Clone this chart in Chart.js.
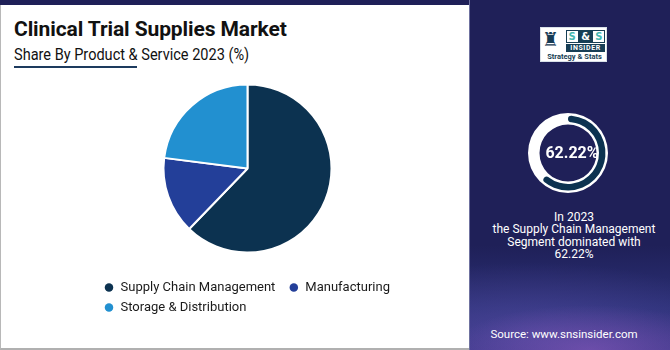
<!DOCTYPE html>
<html>
<head>
<meta charset="utf-8">
<script src="https://cdn.jsdelivr.net/npm/chart.js@4.4.1/dist/chart.umd.min.js"></script>
<style>
  html, body { margin:0; padding:0; }
  body { width:670px; height:350px; position:relative; overflow:hidden; background:#fff; font-family: Roboto, "Noto Sans", sans-serif; }
  #left { position:absolute; left:0; top:0; width:469px; height:350px; background:#fff; box-sizing:border-box; border-left:1px solid #b8b8b8; border-bottom:2px solid #b0b0b0; }
  #topband { position:absolute; left:0; top:0; width:470px; height:5px; background:#1f2058; }
  #title { position:absolute; left:14px; top:19px; font-weight:700; font-size:21px; line-height:21px; color:#111; white-space:nowrap; letter-spacing:-0.1px; }
  #subtitle { position:absolute; left:14px; top:46px; font-size:17px; line-height:17px; color:#111; white-space:nowrap; transform-origin:0 0; transform:scaleX(0.855); }
  #uline { position:absolute; left:14px; top:66px; width:123px; height:2px; background:#1d3b5e; }
  #pieWrap { position:absolute; left:97px; top:62.5px; width:301px; height:261px; }
  #right { position:absolute; left:469px; top:0; width:201px; height:350px; background:#1f2058; overflow:hidden;
    background-image:
      radial-gradient(ellipse 140px 45px at 60% 100%, rgba(140,90,190,0.55), rgba(140,90,190,0) 100%),
      radial-gradient(ellipse 220px 70px at 30% 95%, rgba(90,80,170,0.55), rgba(90,80,170,0) 100%),
      linear-gradient(to bottom, #1f2058 0%, #1f2058 70%, #2b3076 88%, #3a3585 100%);
    border-left:1px solid #6f72a0; box-sizing:border-box; }
  #ringWrap { position:absolute; left:518px; top:103px; width:100px; height:100px; }
  #ringLabel { position:absolute; left:522px; top:145px; width:100px; text-align:center; color:#fff; font-weight:700; font-size:16px; line-height:16px; }
  #desc { position:absolute; left:474px; top:211px; width:200px; text-align:center; color:#fff; font-size:12px; line-height:12.4px; }
  #source { position:absolute; left:469px; top:327px; width:190px; text-align:center; color:#fff; font-size:11.5px; line-height:14px; }
  #logo { position:absolute; left:540px; top:27px; width:67px; height:35px; background:#fff; box-sizing:border-box; border:1px solid #d8e0e8; }
  #rook { position:absolute; left:1px; top:1px; font-size:19px; line-height:20px; color:#163b55; font-family:"DejaVu Sans", sans-serif; }
  #ss { position:absolute; left:25px; top:2px; width:39px; height:13px; background:#173e55; color:#fff; font-size:10px; font-weight:700; line-height:13px; text-align:center; font-family:"DejaVu Sans", sans-serif; }
  #ss span.b { display:inline-block; background:#fff; color:#45b8b2; width:11px; line-height:11px; margin-top:1px; }
  #ins { position:absolute; left:25px; top:16px; width:39px; height:8px; background:#173e55; color:#fff; font-size:7px; font-weight:700; line-height:8px; text-align:center; letter-spacing:0.6px; }
  #strat { position:absolute; left:2px; top:24px; width:63px; text-align:center; color:#173e55; font-size:7.5px; font-weight:700; line-height:9px; white-space:nowrap; }
</style>
</head>
<body>
<div id="left"></div>
<div id="topband"></div>
<div id="title">Clinical Trial Supplies Market</div>
<div id="subtitle">Share By Product &amp; Service 2023 (%)</div>
<div id="uline"></div>
<div id="pieWrap"><canvas id="pie"></canvas></div>

<div id="right"></div>
<div id="logo">
  <div id="rook">&#9820;</div>
  <div id="ss"><span class="b">S</span> &amp; <span class="b">S</span></div>
  <div id="ins">INSIDER</div>
  <div id="strat">Strategy &amp; Stats</div>
</div>
<div id="ringWrap"><canvas id="ring"></canvas></div>
<div id="ringLabel"></div>
<div id="desc"></div>
<div id="source">Source: www.snsinsider.com</div>

<script>
// ---- data ----
const categories = ["Supply Chain Management", "Manufacturing", "Storage & Distribution"];
const shares = [62.22, 14.8, 22.98];
const colors = ["#0c3250", "#233f99", "#2290d0"];
const highlightIndex = 0;
const year = "2023";

const highlight = shares[highlightIndex];
document.getElementById('ringLabel').textContent = highlight.toFixed(2) + '%';
document.getElementById('desc').innerHTML =
  'In ' + year + '<br>the ' + categories[highlightIndex] + '<br>Segment dominated with<br>' + highlight.toFixed(2) + '%';

Chart.defaults.font.family = 'Roboto, "Noto Sans", sans-serif';

new Chart(document.getElementById('pie'), {
  type: 'pie',
  data: {
    labels: categories,
    datasets: [{
      data: shares,
      backgroundColor: colors,
      borderColor: '#ffffff',
      borderWidth: 2
    }]
  },
  options: {
    responsive: true,
    maintainAspectRatio: false,
    animation: false,
    radius: 84,
    layout: { padding: 0 },
    plugins: {
      tooltip: { enabled: false },
      legend: {
        position: 'bottom',
        align: 'start',
        labels: {
          usePointStyle: true,
          pointStyle: 'circle',
          boxWidth: 10,
          boxHeight: 6,
          padding: 7,
          color: '#1a1a1a',
          font: { size: 13 },
          generateLabels: (chart) => {
            const items = Chart.overrides.pie.plugins.legend.labels.generateLabels(chart);
            items.forEach((it, i) => {
              it.lineWidth = 0;
              it.strokeStyle = 'transparent';
              if (i === 0) it.text = it.text + '\u00a0\u00a0';
            });
            return items;
          }
        }
      }
    }
  }
});

const RING_OUTER = 40, RING_INNER = 28.5, ARC_OUTER = 37.5, ARC_INNER = 31;

const ringBg = {
  id: 'ringBg',
  beforeDatasetsDraw(chart) {
    const arc = chart.getDatasetMeta(0).data[0];
    if (!arc) return;
    const ctx = chart.ctx;
    ctx.save();
    ctx.beginPath();
    ctx.arc(arc.x, arc.y, RING_OUTER, 0, Math.PI * 2);
    ctx.moveTo(arc.x + RING_INNER, arc.y);
    ctx.arc(arc.x, arc.y, RING_INNER, 0, Math.PI * 2, true);
    ctx.fillStyle = '#ffffff';
    ctx.fill('evenodd');
    ctx.restore();
  }
};

new Chart(document.getElementById('ring'), {
  type: 'doughnut',
  data: {
    labels: ['highlight', 'rest'],
    datasets: [{
      data: [highlight, 100 - highlight],
      backgroundColor: ['#0c3250', 'rgba(0,0,0,0)'],
      borderWidth: 0,
      borderRadius: [4, 0]
    }]
  },
  options: {
    responsive: true,
    maintainAspectRatio: false,
    animation: false,
    radius: ARC_OUTER,
    cutout: (ARC_INNER / ARC_OUTER * 100) + '%',
    layout: { padding: 0 },
    plugins: { legend: { display: false }, tooltip: { enabled: false } }
  },
  plugins: [ringBg]
});
</script>
</body>
</html>
